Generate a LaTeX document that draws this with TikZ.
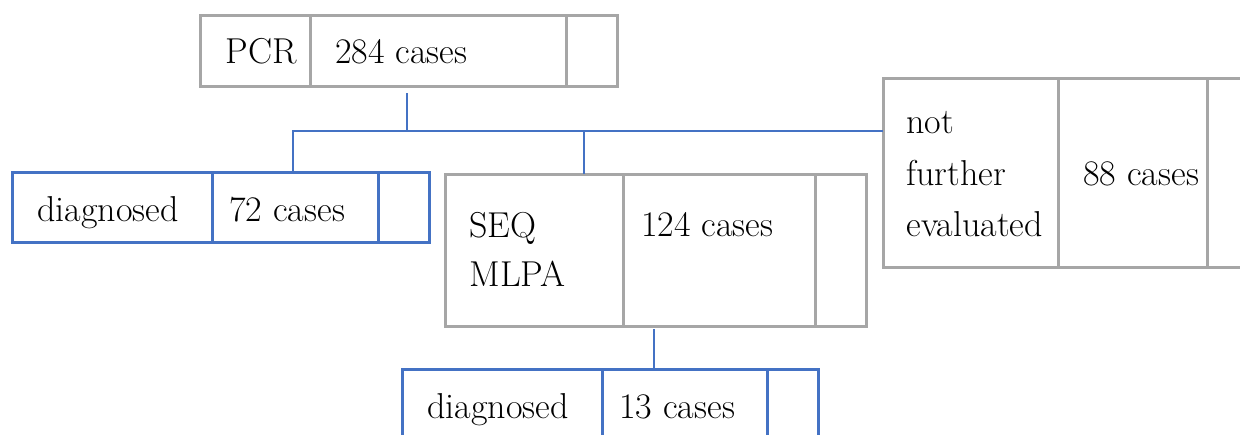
\documentclass[tikz,border=0pt]{standalone}
\usepackage{tikz}
\definecolor{boxgray}{RGB}{166,166,166}
\definecolor{boxblue}{RGB}{68,114,196}
\tikzset{
  cell/.style={draw=boxgray,line width=1.5pt,anchor=north west,inner sep=0pt,outer sep=0pt},
  hitcell/.style={cell,draw=boxblue},
  link/.style={draw=boxblue,line width=1pt},
  txt/.style={anchor=base west,inner sep=0pt,font=\fontsize{18}{21}\selectfont}
}

\begin{document}
\begin{tikzpicture}[x=0.5pt,y=-0.5pt]
  \useasboundingbox (0,0) rectangle (1240,434);
  \clip (0,0) rectangle (1240,434);

  % PCR row
  \node[cell,minimum width=55pt,minimum height=35.5pt] (pcrL) at (200,15) {};
  \node[cell,minimum width=128pt,minimum height=35.5pt] (pcrN) at (pcrL.north east) {};
  \node[cell,minimum width=25.5pt,minimum height=35.5pt] (pcrR) at (pcrN.north east) {};
  \node[txt] (pcrT) at (225,63) {PCR};
  \node[txt] (pcrC) at (335,63) {284 cases};

  % diagnosed directly
  \node[hitcell,minimum width=100pt,minimum height=35pt] (dgaL) at (12,172) {};
  \node[hitcell,minimum width=83pt,minimum height=35pt] (dgaN) at (dgaL.north east) {};
  \node[hitcell,minimum width=25.5pt,minimum height=35pt] (dgaR) at (dgaN.north east) {};
  \node[txt] (dgaT) at (37,221) {diagnosed};
  \node[txt] (dgaC) at (229,221) {72 cases};

  % SEQ / MLPA
  \node[cell,minimum width=89pt,minimum height=76pt] (seqL) at (445,174) {};
  \node[cell,minimum width=96pt,minimum height=76pt] (seqN) at (seqL.north east) {};
  \node[cell,minimum width=25.5pt,minimum height=76pt] (seqR) at (seqN.north east) {};
  \node[txt] (seqT) at (469,237) {SEQ};
  \node[txt] (seqU) at (469,286) {MLPA};
  \node[txt] (seqC) at (641,236) {124 cases};

  % not further evaluated
  \node[cell,minimum width=87.5pt,minimum height=94.5pt] (nfeL) at (883,78) {};
  \node[cell,minimum width=74.5pt,minimum height=94.5pt] (nfeN) at (nfeL.north east) {};
  \node[cell,minimum width=25.5pt,minimum height=94.5pt] (nfeR) at (nfeN.north east) {};
  \node[txt] (nfeT) at (906,133) {not};
  \node[txt] (nfeU) at (906,185) {further};
  \node[txt] (nfeV) at (906,236) {evaluated};
  \node[txt] (nfeC) at (1083,185) {88 cases};

  % diagnosed after SEQ / MLPA
  \node[hitcell,minimum width=100pt,minimum height=35pt] (dgbL) at (402,369) {};
  \node[hitcell,minimum width=82.5pt,minimum height=35pt] (dgbN) at (dgbL.north east) {};
  \node[hitcell,minimum width=25.5pt,minimum height=35pt] (dgbR) at (dgbN.north east) {};
  \node[txt] (dgbT) at (427,418) {diagnosed};
  \node[txt] (dgbC) at (619,418) {13 cases};

  % connectors
  \coordinate (pcrOut) at (407,93);
  \coordinate (hub) at (407,131);
  \coordinate (seqIn) at (584,131);
  \coordinate (seqOut) at (654,329);
  \draw[link] (pcrOut) -- (hub);
  \draw[link] (dgaN.north -| 293,0) -- (293,131) -- (nfeL.west |- hub);
  \draw[link] (seqIn) -- (seqIn |- seqL.north);
  \draw[link] (seqOut) -- (seqOut |- dgbL.north);
\end{tikzpicture}
\end{document}
